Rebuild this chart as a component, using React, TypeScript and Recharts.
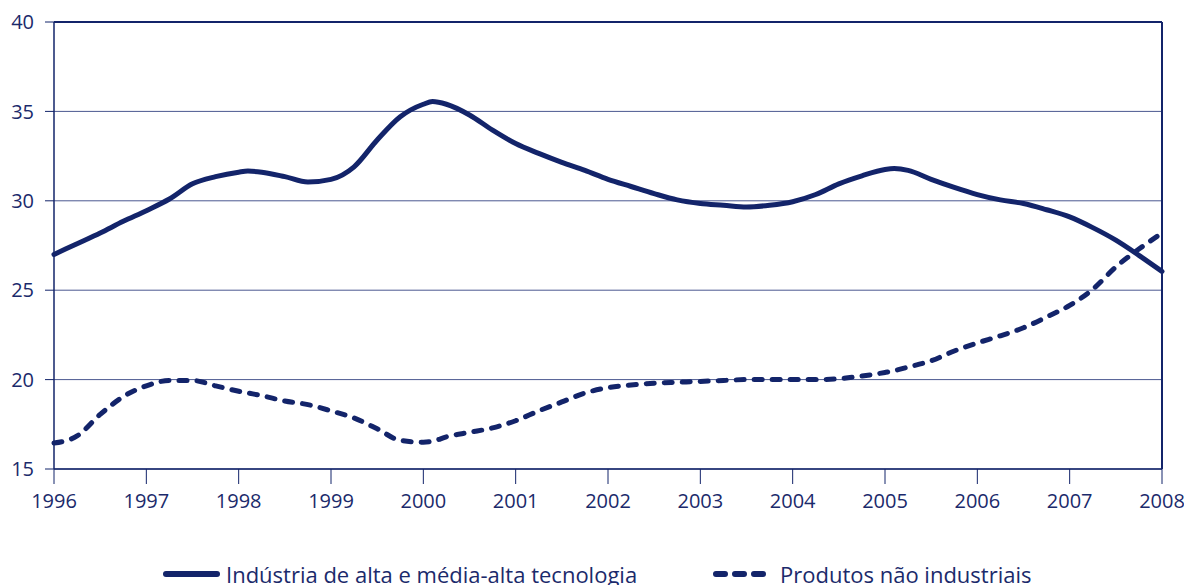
import { CartesianGrid, Line, LineChart, ReferenceLine, XAxis, YAxis } from "recharts";

const years = [1996, 1997, 1998, 1999, 2000, 2001, 2002, 2003, 2004, 2005, 2006, 2007, 2008];
const yTicks = [15, 20, 25, 30, 35, 40];

// reading positions (mostly quarterly, with a few extra points at the turns)
const times = [
  1996, 1996.25, 1996.5, 1996.75, 1997, 1997.25, 1997.5, 1997.75,
  1998, 1998.1, 1998.25, 1998.5, 1998.75, 1999, 1999.25, 1999.5, 1999.75,
  2000, 2000.1, 2000.25, 2000.5, 2000.75, 2001, 2001.25, 2001.5, 2001.75,
  2002, 2002.25, 2002.5, 2002.75, 2003, 2003.25, 2003.5, 2003.75,
  2004, 2004.25, 2004.5, 2004.75, 2005, 2005.1, 2005.25, 2005.5, 2005.75,
  2006, 2006.25, 2006.5, 2006.75, 2007, 2007.25, 2007.5, 2007.75, 2008,
];

const altaTecnologia = [
  27.0, 27.6, 28.2, 28.85, 29.45, 30.1, 30.95, 31.35,
  31.6, 31.66, 31.6, 31.35, 31.05, 31.2, 31.9, 33.4, 34.7,
  35.4, 35.55, 35.4, 34.8, 33.95, 33.2, 32.65, 32.15, 31.7,
  31.2, 30.8, 30.4, 30.05, 29.85, 29.75, 29.65, 29.75,
  29.95, 30.35, 30.95, 31.4, 31.75, 31.8, 31.7, 31.2, 30.75,
  30.35, 30.05, 29.85, 29.5, 29.1, 28.5, 27.8, 26.95, 26.05,
];

const naoIndustriais = [
  16.45, 16.85, 18.05, 19.05, 19.65, 19.95, 19.95, 19.65,
  19.35, 19.25, 19.1, 18.8, 18.6, 18.25, 17.85, 17.25, 16.6,
  16.5, 16.55, 16.8, 17.05, 17.3, 17.7, 18.25, 18.75, 19.25,
  19.55, 19.7, 19.8, 19.85, 19.9, 19.95, 20.0, 20.0,
  20.0, 20.0, 20.05, 20.2, 20.4, 20.5, 20.7, 21.05, 21.6,
  22.05, 22.45, 22.9, 23.5, 24.15, 25.05, 26.3, 27.3, 28.2,
];

const seriesNames = ["Indústria de alta e média-alta tecnologia", "Produtos não industriais"];

const data = times.map((t, i) => ({
  t,
  alta: altaTecnologia[i],
  nao: naoIndustriais[i],
}));

const NAVY = "#13246a";
const TEXT = "#1b2a6b";
const GRID = "#4a5890";
const FONT = "'Open Sans', sans-serif";

export default function App() {
  return (
    <div style={{ position: "absolute", left: 0, top: 0, width: 1184, height: 585, background: "#fff", fontFamily: FONT, overflow: "hidden" }}>
      <LineChart width={1184} height={585} data={data} margin={{ top: 22, right: 22, left: 0, bottom: 86 }}>
        <CartesianGrid horizontal vertical={false} stroke={GRID} strokeWidth={1} />
        <XAxis
          dataKey="t"
          type="number"
          domain={[1996, 2008]}
          ticks={years}
          interval={0}
          height={30}
          tickSize={15}
          tickMargin={10}
          tick={{ fill: TEXT, fontSize: 20, fontFamily: FONT }}
          tickLine={{ stroke: NAVY, strokeWidth: 1 }}
          axisLine={{ stroke: NAVY, strokeWidth: 1.5 }}
        />
        <YAxis
          domain={[15, 40]}
          ticks={yTicks}
          interval={0}
          width={54}
          tickSize={9}
          tickMargin={11}
          tick={{ fill: TEXT, fontSize: 20, fontFamily: FONT }}
          tickLine={{ stroke: NAVY, strokeWidth: 1 }}
          axisLine={{ stroke: NAVY, strokeWidth: 1.5 }}
        />
        <ReferenceLine y={40} stroke={NAVY} strokeWidth={2} />
        <ReferenceLine x={2008} stroke={NAVY} strokeWidth={2} />
        <Line
          dataKey="alta"
          type="monotone"
          stroke={NAVY}
          strokeWidth={5}
          strokeLinecap="round"
          dot={false}
          isAnimationActive={false}
        />
        <Line
          dataKey="nao"
          type="monotone"
          stroke={NAVY}
          strokeWidth={5}
          strokeDasharray="8 10"
          strokeLinecap="round"
          dot={false}
          isAnimationActive={false}
        />
      </LineChart>
      <div style={{ position: "absolute", left: 163, top: 560, display: "flex", alignItems: "center", color: TEXT, fontSize: 22, lineHeight: "28px", whiteSpace: "nowrap" }}>
        <svg width={58} height={12} style={{ marginRight: 5 }}>
          <line x1={3} y1={6} x2={54} y2={6} stroke={NAVY} strokeWidth={6} strokeLinecap="round" />
        </svg>
        <span>{seriesNames[0]}</span>
      </div>
      <div style={{ position: "absolute", left: 710, top: 560, display: "flex", alignItems: "center", color: TEXT, fontSize: 22, lineHeight: "28px", whiteSpace: "nowrap" }}>
        <svg width={58} height={12} style={{ marginRight: 12 }}>
          <line x1={6} y1={6} x2={56} y2={6} stroke={NAVY} strokeWidth={6} strokeDasharray="9 10" strokeLinecap="round" />
        </svg>
        <span>{seriesNames[1]}</span>
      </div>
    </div>
  );
}
